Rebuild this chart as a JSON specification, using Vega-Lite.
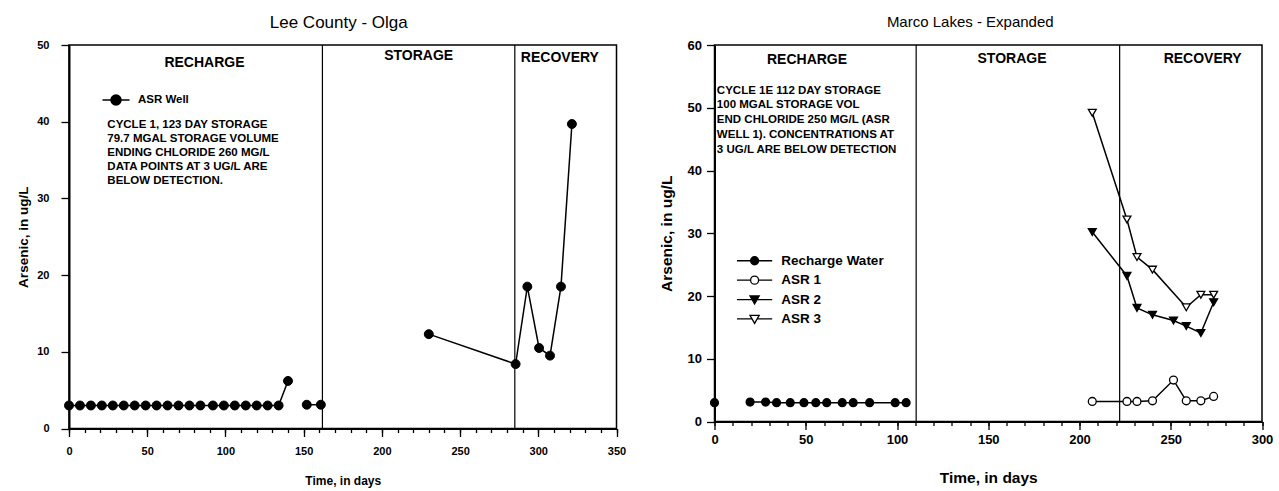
{
  "$schema": "https://vega.github.io/schema/vega-lite/v6.json",
  "background": "white",
  "padding": {"left": 16, "top": 12, "right": 5, "bottom": 2},
  "spacing": 31.5,
  "resolve": {
    "scale": {"shape": "independent", "fill": "independent", "stroke": "independent", "x": "independent", "y": "independent"},
    "legend": {"shape": "independent", "fill": "independent", "stroke": "independent"}
  },
  "datasets": {
    "olga": [
      {"day": 0, "as": 3.0, "seg": "a", "series": "ASR Well"},
      {"day": 7, "as": 3.0, "seg": "a", "series": "ASR Well"},
      {"day": 14, "as": 3.0, "seg": "a", "series": "ASR Well"},
      {"day": 21, "as": 3.0, "seg": "a", "series": "ASR Well"},
      {"day": 28, "as": 3.0, "seg": "a", "series": "ASR Well"},
      {"day": 35, "as": 3.0, "seg": "a", "series": "ASR Well"},
      {"day": 42, "as": 3.0, "seg": "a", "series": "ASR Well"},
      {"day": 49, "as": 3.0, "seg": "a", "series": "ASR Well"},
      {"day": 56, "as": 3.0, "seg": "a", "series": "ASR Well"},
      {"day": 63, "as": 3.0, "seg": "a", "series": "ASR Well"},
      {"day": 70, "as": 3.0, "seg": "a", "series": "ASR Well"},
      {"day": 77, "as": 3.0, "seg": "a", "series": "ASR Well"},
      {"day": 84, "as": 3.0, "seg": "a", "series": "ASR Well"},
      {"day": 92, "as": 3.0, "seg": "a", "series": "ASR Well"},
      {"day": 99, "as": 3.0, "seg": "a", "series": "ASR Well"},
      {"day": 106, "as": 3.0, "seg": "a", "series": "ASR Well"},
      {"day": 113, "as": 3.0, "seg": "a", "series": "ASR Well"},
      {"day": 120, "as": 3.0, "seg": "a", "series": "ASR Well"},
      {"day": 127, "as": 3.0, "seg": "a", "series": "ASR Well"},
      {"day": 134, "as": 3.0, "seg": "a", "series": "ASR Well"},
      {"day": 140, "as": 6.2, "seg": "a", "series": "ASR Well"},
      {"day": 152, "as": 3.1, "seg": "b", "series": "ASR Well"},
      {"day": 161, "as": 3.1, "seg": "b", "series": "ASR Well"},
      {"day": 230, "as": 12.3, "seg": "c", "series": "ASR Well"},
      {"day": 285.5, "as": 8.4, "seg": "c", "series": "ASR Well"},
      {"day": 293, "as": 18.5, "seg": "c", "series": "ASR Well"},
      {"day": 300.5, "as": 10.5, "seg": "c", "series": "ASR Well"},
      {"day": 307.5, "as": 9.5, "seg": "c", "series": "ASR Well"},
      {"day": 314.5, "as": 18.5, "seg": "c", "series": "ASR Well"},
      {"day": 321.5, "as": 39.7, "seg": "c", "series": "ASR Well"}
    ],
    "olgaPhases": [{"day": 162}, {"day": 285}],
    "olgaLabels": [
      {"label": "RECHARGE", "day": 86.6, "val": 47.7},
      {"label": "STORAGE", "day": 223.5, "val": 48.6},
      {"label": "RECOVERY", "day": 313.8, "val": 48.3}
    ],
    "olgaNote": [
      {"note": "CYCLE 1, 123 DAY STORAGE\n79.7 MGAL STORAGE VOLUME\nENDING CHLORIDE 260 MG/L\nDATA POINTS AT 3 UG/L ARE\nBELOW DETECTION.", "day": 24.5, "val": 40.4}
    ],
    "marco": [
      {"day": 0, "as": 3.0, "series": "Recharge Water", "seg": "rw0"},
      {"day": 19.5, "as": 3.1, "series": "Recharge Water", "seg": "rw1"},
      {"day": 28, "as": 3.1, "series": "Recharge Water", "seg": "rw1"},
      {"day": 34, "as": 3.0, "series": "Recharge Water", "seg": "rw1"},
      {"day": 41.5, "as": 3.0, "series": "Recharge Water", "seg": "rw1"},
      {"day": 49, "as": 3.0, "series": "Recharge Water", "seg": "rw1"},
      {"day": 55.5, "as": 3.0, "series": "Recharge Water", "seg": "rw1"},
      {"day": 61.5, "as": 3.0, "series": "Recharge Water", "seg": "rw1"},
      {"day": 70, "as": 3.0, "series": "Recharge Water", "seg": "rw1"},
      {"day": 76, "as": 3.0, "series": "Recharge Water", "seg": "rw1"},
      {"day": 85, "as": 3.0, "series": "Recharge Water", "seg": "rw1"},
      {"day": 99, "as": 3.0, "series": "Recharge Water", "seg": "rw1"},
      {"day": 105, "as": 3.0, "series": "Recharge Water", "seg": "rw1"},
      {"day": 207, "as": 3.2, "series": "ASR 1", "seg": "a1"},
      {"day": 226, "as": 3.2, "series": "ASR 1", "seg": "a1"},
      {"day": 231.5, "as": 3.2, "series": "ASR 1", "seg": "a1"},
      {"day": 240, "as": 3.3, "series": "ASR 1", "seg": "a1"},
      {"day": 251.5, "as": 6.6, "series": "ASR 1", "seg": "a1"},
      {"day": 258.5, "as": 3.3, "series": "ASR 1", "seg": "a1"},
      {"day": 266.5, "as": 3.3, "series": "ASR 1", "seg": "a1"},
      {"day": 273.5, "as": 4.0, "series": "ASR 1", "seg": "a1"},
      {"day": 207, "as": 30.2, "series": "ASR 2", "seg": "a2"},
      {"day": 226, "as": 23.2, "series": "ASR 2", "seg": "a2"},
      {"day": 231.5, "as": 18.1, "series": "ASR 2", "seg": "a2"},
      {"day": 240, "as": 17.0, "series": "ASR 2", "seg": "a2"},
      {"day": 251.5, "as": 16.1, "series": "ASR 2", "seg": "a2"},
      {"day": 258.5, "as": 15.2, "series": "ASR 2", "seg": "a2"},
      {"day": 266.5, "as": 14.1, "series": "ASR 2", "seg": "a2"},
      {"day": 273.5, "as": 19.0, "series": "ASR 2", "seg": "a2"},
      {"day": 207, "as": 49.2, "series": "ASR 3", "seg": "a3"},
      {"day": 226, "as": 32.2, "series": "ASR 3", "seg": "a3"},
      {"day": 231.5, "as": 26.2, "series": "ASR 3", "seg": "a3"},
      {"day": 240, "as": 24.2, "series": "ASR 3", "seg": "a3"},
      {"day": 258.5, "as": 18.2, "series": "ASR 3", "seg": "a3"},
      {"day": 266.5, "as": 20.2, "series": "ASR 3", "seg": "a3"},
      {"day": 273.5, "as": 20.2, "series": "ASR 3", "seg": "a3"}
    ],
    "marcoPhases": [{"day": 110.5}, {"day": 222}],
    "marcoLabels": [
      {"label": "RECHARGE", "day": 50.7, "val": 57.6},
      {"label": "STORAGE", "day": 163, "val": 57.8},
      {"label": "RECOVERY", "day": 267.5, "val": 57.8}
    ],
    "marcoNote": [
      {"note": "CYCLE 1E  112 DAY STORAGE\n100 MGAL STORAGE VOL\nEND CHLORIDE 250 MG/L (ASR\nWELL 1).  CONCENTRATIONS AT\n3 UG/L ARE BELOW DETECTION", "day": 1.3, "val": 53.7}
    ]
  },
  "config": {
    "view": {"stroke": "black", "strokeWidth": 1.5},
    "font": "Liberation Sans",
    "axis": {
      "grid": false,
      "domainColor": "black",
      "domainWidth": 2,
      "tickColor": "black",
      "tickWidth": 1.3,
      "labelColor": "black",
      "labelFontWeight": "bold",
      "labelFont": "Liberation Sans",
      "titleColor": "black",
      "titleFontWeight": "bold",
      "titleFont": "Liberation Sans",
      "labelOverlap": false,
      "labelFlush": false
    },
    "title": {"font": "Liberation Sans", "fontWeight": "normal", "color": "black", "anchor": "middle"},
    "legend": {"padding": 0, "titleLimit": 0}
  },
  "hconcat": [
    {
      "width": 547.5,
      "height": 383.5,
      "title": {"text": "Lee County - Olga", "fontSize": 17, "offset": 7.5, "dx": -4},
      "resolve": {
        "axis": {"x": "independent"},
        "scale": {"shape": "independent", "fill": "independent", "stroke": "independent"}
      },
      "layer": [
        {
          "data": {"name": "olgaPhases"},
          "mark": {"type": "rule", "color": "black", "strokeWidth": 1.2},
          "encoding": {
            "x": {
              "field": "day", "type": "quantitative", "scale": {"domain": [0, 350], "nice": false},
              "axis": {
                "orient": "bottom", "title": null, "labels": false, "domain": false, "tickSize": 4,
                "values": [0,10,20,30,40,50,60,70,80,90,100,110,120,130,140,150,160,170,180,190,200,210,220,230,240,250,260,270,280,290,300,310,320,330,340,350]
              }
            }
          }
        },
        {
          "data": {"name": "olga"},
          "mark": {"type": "line", "color": "black", "strokeWidth": 1.5},
          "encoding": {
            "x": {
              "field": "day", "type": "quantitative", "scale": {"domain": [0, 350], "nice": false},
              "axis": {
                "orient": "bottom", "title": "Time, in days",
                "values": [0,50,100,150,200,250,300,350],
                "labelOverlap": false, "labelFlush": false, "tickSize": 8,
                "labelFontSize": 11, "labelPadding": 9, "titleFontSize": 12, "titlePadding": 19
              }
            },
            "y": {
              "field": "as", "type": "quantitative", "scale": {"domain": [0, 50], "nice": false},
              "axis": {
                "title": "Arsenic, in ug/L",
                "values": [0,5,10,15,20,25,30,35,40,45,50],
                "labelExpr": "datum.value % 10 === 0 ? datum.label : ''",
                "labelOverlap": false, "labelFlush": false,
                "tickSize": {"condition": {"test": "datum.value % 10 === 0", "value": 8}, "value": 4},
                "labelFontSize": 11, "labelPadding": 12, "titleFontSize": 13.5, "titlePadding": 6
              }
            },
            "detail": {"field": "seg"}
          }
        },
        {
          "data": {"name": "olga"},
          "mark": {"type": "point", "filled": true, "fill": "black", "stroke": "black", "size": 80, "opacity": 1, "strokeWidth": 1},
          "encoding": {
            "x": {"field": "day", "type": "quantitative", "axis": null},
            "y": {"field": "as", "type": "quantitative", "title": "Arsenic, in ug/L"}
          }
        },
        {
          "data": {"name": "olga"},
          "transform": [{"filter": "false"}],
          "mark": {"type": "point", "filled": true, "strokeWidth": 1.5},
          "encoding": {
            "x": {"field": "day", "type": "quantitative", "axis": null},
            "y": {"field": "as", "type": "quantitative", "title": "Arsenic, in ug/L"},
            "shape": {
              "field": "series", "type": "nominal",
              "scale": {"domain": ["ASR Well"], "range": ["M-2.7,0H-1M1,0H2.7M-1,0A1,1,0,1,1,1,0A1,1,0,1,1,-1,0Z"]},
              "legend": {
                "title": null, "orient": "none", "legendX": 27.5, "legendY": 49,
                "symbolSize": 100, "symbolOffset": 13.5, "labelOffset": 15.9, "symbolOpacity": 1,
                "labelFontSize": 11.5, "labelFontWeight": "bold", "labelColor": "black", "labelFont": "Liberation Sans",
                "symbolStrokeWidth": 1.5
              }
            },
            "fill": {
              "field": "series", "type": "nominal",
              "scale": {"domain": ["ASR Well"], "range": ["black"]},
              "legend": {
                "title": null, "orient": "none", "legendX": 27.5, "legendY": 49,
                "symbolSize": 100, "symbolOffset": 13.5, "labelOffset": 15.9, "symbolOpacity": 1,
                "labelFontSize": 11.5, "labelFontWeight": "bold", "labelColor": "black", "labelFont": "Liberation Sans",
                "symbolStrokeWidth": 1.5
              }
            },
            "stroke": {
              "field": "series", "type": "nominal",
              "scale": {"domain": ["ASR Well"], "range": ["black"]},
              "legend": {
                "title": null, "orient": "none", "legendX": 27.5, "legendY": 49,
                "symbolSize": 100, "symbolOffset": 13.5, "labelOffset": 15.9, "symbolOpacity": 1,
                "labelFontSize": 11.5, "labelFontWeight": "bold", "labelColor": "black", "labelFont": "Liberation Sans",
                "symbolStrokeWidth": 1.5
              }
            }
          }
        },
        {
          "data": {"name": "olgaLabels"},
          "mark": {"type": "text", "font": "Liberation Sans", "fontWeight": "bold", "fontSize": 14, "align": "center", "baseline": "middle", "color": "black"},
          "encoding": {
            "x": {"field": "day", "type": "quantitative", "axis": null},
            "y": {"field": "val", "type": "quantitative", "title": "Arsenic, in ug/L"},
            "text": {"field": "label"}
          }
        },
        {
          "data": {"name": "olgaNote"},
          "mark": {"type": "text", "font": "Liberation Sans", "fontWeight": "bold", "fontSize": 11.5, "align": "left", "baseline": "top", "lineBreak": "\n", "lineHeight": 14, "color": "black"},
          "encoding": {
            "x": {"field": "day", "type": "quantitative", "axis": null},
            "y": {"field": "val", "type": "quantitative", "title": "Arsenic, in ug/L"},
            "text": {"field": "note"}
          }
        }
      ]
    },
    {
      "width": 547.5,
      "height": 376.5,
      "title": {"text": "Marco Lakes - Expanded", "fontSize": 15, "offset": 9.5, "dx": -18},
      "resolve": {
        "axis": {"x": "independent"},
        "scale": {"shape": "independent", "fill": "independent", "stroke": "independent"}
      },
      "layer": [
        {
          "data": {"name": "marcoPhases"},
          "mark": {"type": "rule", "color": "black", "strokeWidth": 1.2},
          "encoding": {
            "x": {
              "field": "day", "type": "quantitative", "scale": {"domain": [0, 300], "nice": false},
              "axis": {
                "orient": "bottom", "title": null, "labels": false, "domain": false, "tickSize": 4,
                "values": [0,10,20,30,40,50,60,70,80,90,100,110,120,130,140,150,160,170,180,190,200,210,220,230,240,250,260,270,280,290,300]
              }
            }
          }
        },
        {
          "data": {"name": "marco"},
          "mark": {"type": "line", "color": "black", "strokeWidth": 1.5},
          "encoding": {
            "x": {
              "field": "day", "type": "quantitative", "scale": {"domain": [0, 300], "nice": false},
              "axis": {
                "orient": "bottom", "title": "Time, in days",
                "values": [0,50,100,150,200,250,300],
                "labelOverlap": false, "labelFlush": false, "tickSize": 8,
                "labelFontSize": 13, "labelPadding": 4, "titleFontSize": 15.5, "titlePadding": 23.5
              }
            },
            "y": {
              "field": "as", "type": "quantitative", "scale": {"domain": [0, 60], "nice": false},
              "axis": {
                "title": "Arsenic, in ug/L",
                "values": [0,5,10,15,20,25,30,35,40,45,50,55,60],
                "labelExpr": "datum.value % 10 === 0 ? datum.label : ''",
                "labelOverlap": false, "labelFlush": false,
                "tickSize": {"condition": {"test": "datum.value % 10 === 0", "value": 8}, "value": 4},
                "labelFontSize": 13, "labelPadding": 5, "titleFontSize": 15.5, "titlePadding": 12.5
              }
            },
            "detail": {"field": "seg"}
          }
        },
        {
          "data": {"name": "marco"},
          "mark": {"type": "point", "filled": true, "stroke": "black", "strokeWidth": 1.3, "opacity": 1, "size": 62},
          "encoding": {
            "x": {"field": "day", "type": "quantitative", "axis": null},
            "y": {"field": "as", "type": "quantitative", "title": "Arsenic, in ug/L"},
            "fill": {
              "field": "series", "type": "nominal",
              "scale": {"domain": ["Recharge Water", "ASR 1", "ASR 2", "ASR 3"], "range": ["black", "white", "black", "white"]},
              "legend": null
            },
            "shape": {
              "field": "series", "type": "nominal",
              "scale": {"domain": ["Recharge Water", "ASR 1", "ASR 2", "ASR 3"], "range": ["circle", "circle", "triangle-down", "triangle-down"]},
              "legend": null
            }
          }
        },
        {
          "data": {"name": "marco"},
          "transform": [{"filter": "false"}],
          "mark": {"type": "point", "filled": true, "strokeWidth": 1.3},
          "encoding": {
            "x": {"field": "day", "type": "quantitative", "axis": null},
            "y": {"field": "as", "type": "quantitative", "title": "Arsenic, in ug/L"},
            "stroke": {
              "field": "series", "type": "nominal",
              "scale": {"domain": ["Recharge Water", "ASR 1", "ASR 2", "ASR 3"], "range": ["black", "black", "black", "black"]},
              "legend": {
                "title": null, "orient": "none", "legendX": 19.5, "legendY": 209,
                "symbolSize": 64, "symbolOffset": 13.85, "labelOffset": 20, "rowPadding": 4.4, "symbolOpacity": 1,
                "labelFontSize": 13.5, "labelFontWeight": "bold", "labelColor": "black", "labelFont": "Liberation Sans",
                "symbolStrokeWidth": 1.3
              }
            },
            "fill": {
              "field": "series", "type": "nominal",
              "scale": {"domain": ["Recharge Water", "ASR 1", "ASR 2", "ASR 3"], "range": ["black", "white", "black", "white"]},
              "legend": {
                "title": null, "orient": "none", "legendX": 19.5, "legendY": 209,
                "symbolSize": 64, "symbolOffset": 13.85, "labelOffset": 20, "rowPadding": 4.4, "symbolOpacity": 1,
                "labelFontSize": 13.5, "labelFontWeight": "bold", "labelColor": "black", "labelFont": "Liberation Sans",
                "symbolStrokeWidth": 1.3
              }
            },
            "shape": {
              "field": "series", "type": "nominal",
              "scale": {
                "domain": ["Recharge Water", "ASR 1", "ASR 2", "ASR 3"],
                "range": [
                  "M-4.4,0H-1M1,0H4.4M-1,0A1,1,0,1,1,1,0A1,1,0,1,1,-1,0Z",
                  "M-4.4,0H-1M1,0H4.4M-1,0A1,1,0,1,1,1,0A1,1,0,1,1,-1,0Z",
                  "M-4.4,0H-0.6M0.6,0H4.4M-1.15,-0.9L1.15,-0.9L0,1.1Z",
                  "M-4.4,0H-0.6M0.6,0H4.4M-1.15,-0.9L1.15,-0.9L0,1.1Z"
                ]
              },
              "legend": {
                "title": null, "orient": "none", "legendX": 19.5, "legendY": 209,
                "symbolSize": 64, "symbolOffset": 13.85, "labelOffset": 20, "rowPadding": 4.4, "symbolOpacity": 1,
                "labelFontSize": 13.5, "labelFontWeight": "bold", "labelColor": "black", "labelFont": "Liberation Sans",
                "symbolStrokeWidth": 1.3
              }
            }
          }
        },
        {
          "data": {"name": "marcoLabels"},
          "mark": {"type": "text", "font": "Liberation Sans", "fontWeight": "bold", "fontSize": 14, "align": "center", "baseline": "middle", "color": "black"},
          "encoding": {
            "x": {"field": "day", "type": "quantitative", "axis": null},
            "y": {"field": "val", "type": "quantitative", "title": "Arsenic, in ug/L"},
            "text": {"field": "label"}
          }
        },
        {
          "data": {"name": "marcoNote"},
          "mark": {"type": "text", "font": "Liberation Sans", "fontWeight": "bold", "fontSize": 11.5, "align": "left", "baseline": "top", "lineBreak": "\n", "lineHeight": 14.8, "color": "black"},
          "encoding": {
            "x": {"field": "day", "type": "quantitative", "axis": null},
            "y": {"field": "val", "type": "quantitative", "title": "Arsenic, in ug/L"},
            "text": {"field": "note"}
          }
        }
      ]
    }
  ]
}
